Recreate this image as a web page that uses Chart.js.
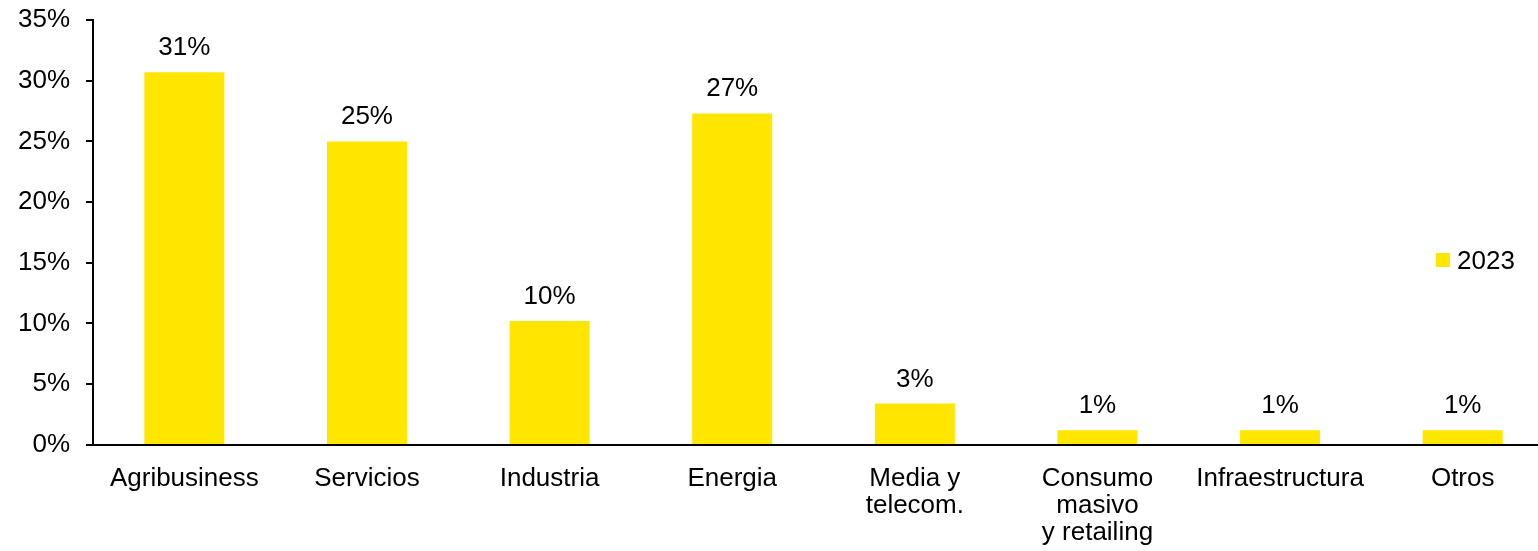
<!DOCTYPE html>
<html>
<head>
<meta charset="utf-8">
<script src="https://cdn.jsdelivr.net/npm/chart.js@4"></script>
<style>
    html, body { margin: 0; padding: 0; background: #ffffff; overflow: hidden; }
    #wrap { width: 1556px; height: 575px; margin-top: -9px; position: relative; }
</style>
</head>
<body>
<div id="wrap"><canvas id="barChart"></canvas></div>
<script>
// Chart data
const categories = ['Agribusiness', 'Servicios', 'Industria', 'Energia', ['Media y', 'telecom.'], ['Consumo', 'masivo', 'y retailing'], 'Infraestructura', 'Otros'];
const values2023 = [30.7, 25.0, 10.2, 27.3, 3.4, 1.2, 1.2, 1.2];
const seriesLabel = '2023';
const yTicks = [0, 5, 10, 15, 20, 25, 30, 35];

const barColor = '#FFE600';
const fontFamily = '"Liberation Sans", Arial, sans-serif';

// value labels above each bar
const valueLabels = {
    id: 'valueLabels',
    afterDatasetsDraw(chart) {
        const ctx = chart.ctx;
        const meta = chart.getDatasetMeta(0);
        ctx.save();
        ctx.font = '26px ' + fontFamily;
        ctx.fillStyle = '#000000';
        ctx.textAlign = 'center';
        ctx.textBaseline = 'alphabetic';
        meta.data.forEach(function(bar, i) {
            const v = chart.data.datasets[0].data[i];
            ctx.fillText(Math.round(v) + '%', bar.x, bar.y - 17);
        });
        ctx.restore();
    }
};

// legend drawn inside the plot, on the right
const insideLegend = {
    id: 'insideLegend',
    afterDraw(chart) {
        const ctx = chart.ctx;
        const ds = chart.data.datasets[0];
        const x = 1436, y = 253 + 9;
        ctx.save();
        ctx.fillStyle = ds.backgroundColor;
        ctx.fillRect(x, y, 14, 14);
        ctx.font = '26px ' + fontFamily;
        ctx.fillStyle = '#000000';
        ctx.textAlign = 'left';
        ctx.textBaseline = 'alphabetic';
        ctx.fillText(ds.label, x + 21, y + 16);
        ctx.restore();
    }
};

const ctx = document.getElementById('barChart').getContext('2d');
new Chart(ctx, {
    type: 'bar',
    data: {
        labels: categories,
        datasets: [{
            label: seriesLabel,
            data: values2023,
            backgroundColor: barColor,
            borderWidth: 0,
            categoryPercentage: 1,
            barPercentage: 0.438
        }]
    },
    options: {
        responsive: true,
        maintainAspectRatio: false,
        animation: false,
        devicePixelRatio: 1,
        layout: {
            padding: { top: 0, left: 2, right: 2, bottom: 0 }
        },
        plugins: {
            legend: { display: false },
            tooltip: { enabled: false }
        },
        scales: {
            x: {
                grid: {
                    display: true,
                    drawOnChartArea: false,
                    drawTicks: false
                },
                border: { display: true, color: '#000000', width: 2 },
                ticks: {
                    color: '#000000',
                    padding: 20,
                    maxRotation: 0,
                    autoSkip: false,
                    font: { family: fontFamily, size: 26, lineHeight: 1.04 }
                }
            },
            y: {
                min: 0,
                max: 35,
                afterBuildTicks: function(scale) {
                    scale.ticks = yTicks.map(v => ({ value: v }));
                },
                grid: {
                    display: true,
                    drawOnChartArea: false,
                    drawTicks: true,
                    tickLength: 7,
                    color: '#000000',
                    lineWidth: 2
                },
                border: { display: true, color: '#000000', width: 2 },
                ticks: {
                    color: '#000000',
                    padding: 16,
                    callback: function(value) {
                        return value + '%';
                    },
                    font: { family: fontFamily, size: 26, lineHeight: 1.0 }
                }
            }
        }
    },
    plugins: [valueLabels, insideLegend]
});
</script>
</body>
</html>
